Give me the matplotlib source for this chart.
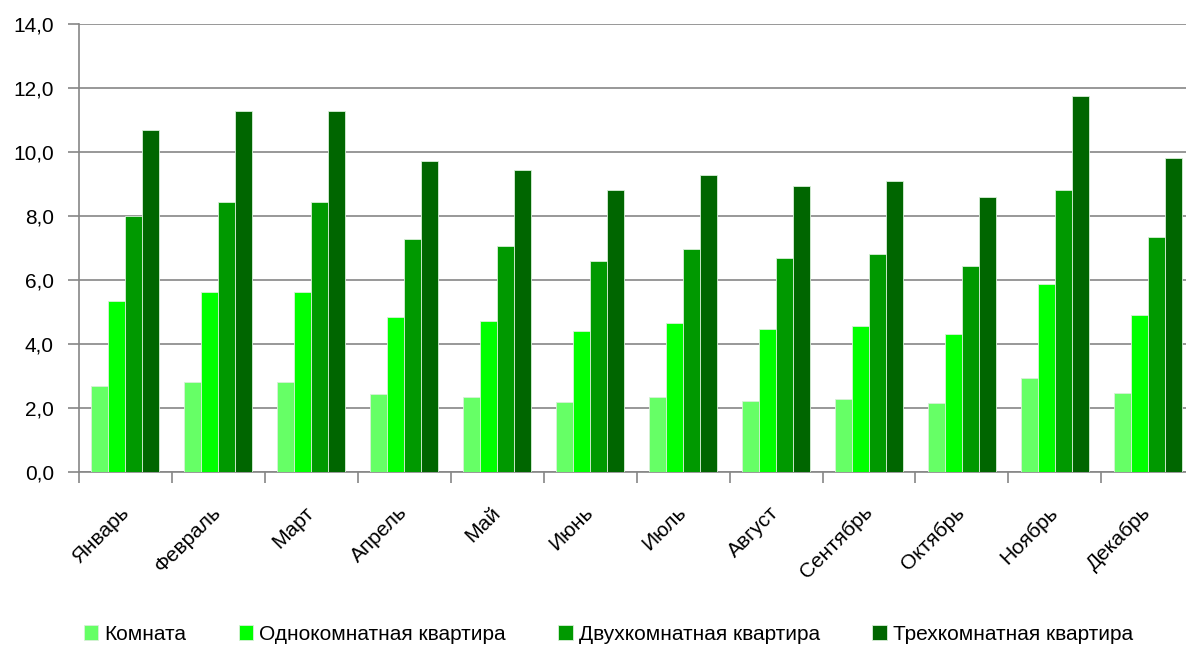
import numpy as np
import matplotlib.pyplot as plt
import matplotlib.transforms as mtransforms
from matplotlib.ticker import FuncFormatter

months = ['Январь', 'Февраль', 'Март', 'Апрель', 'Май', 'Июнь',
          'Июль', 'Август', 'Сентябрь', 'Октябрь', 'Ноябрь', 'Декабрь']
room = [2.69, 2.81, 2.81, 2.44, 2.34, 2.19, 2.34, 2.22, 2.28, 2.15, 2.94, 2.46]
one_room = [5.34, 5.63, 5.63, 4.84, 4.72, 4.41, 4.66, 4.47, 4.56, 4.30, 5.87, 4.91]
two_room = [8.00, 8.44, 8.44, 7.28, 7.06, 6.59, 6.97, 6.69, 6.81, 6.44, 8.81, 7.36]
three_room = [10.69, 11.28, 11.28, 9.72, 9.44, 8.81, 9.28, 8.94, 9.09, 8.60, 11.76, 9.81]

series = [
    ('Комната', room, '#66FF66'),
    ('Однокомнатная квартира', one_room, '#00FF00'),
    ('Двухкомнатная квартира', two_room, '#009900'),
    ('Трехкомнатная квартира', three_room, '#006600'),
]

plt.rcParams['font.family'] = ['Liberation Sans', 'DejaVu Sans']

fig = plt.figure(figsize=(11.86, 6.46), dpi=100)
ax = fig.add_axes([0.0666, 0.2693, 0.9404, 0.6935])

x = np.arange(len(months))
width = 0.183
for i, (name, vals, col) in enumerate(series):
    ax.bar(x + (i - 1.5) * width, vals, width, color=col, label=name,
           edgecolor='#d8f0d8', linewidth=0.6, zorder=3)

ax.set_xlim(-0.5, len(months) - 0.5)
ax.set_ylim(0, 14)
ax.set_yticks(np.arange(0, 14.1, 2))
ax.yaxis.set_major_formatter(FuncFormatter(lambda v, p: f'{v:.1f}'.replace('.', ',')))
ax.grid(axis='y', color='#868686', linewidth=1.2, zorder=0)

# деления по границам категорий
ax.set_xticks(np.arange(-0.5, len(months) - 0.4, 1))
ax.set_xticklabels([])
ax.set_xticks(x, minor=True)
labels = ax.set_xticklabels(months, minor=True, rotation=45, ha='right', va='center',
                            rotation_mode='anchor', fontsize=15)
shift = mtransforms.ScaledTranslation(9 / 100, 0, fig.dpi_scale_trans)
for lab in labels:
    lab.set_transform(lab.get_transform() + shift)
ax.tick_params(axis='x', which='minor', length=0, pad=27)
ax.tick_params(axis='x', which='major', length=8, color='#868686', width=1.2)
ax.tick_params(axis='y', length=8, color='#868686', width=1.2, labelsize=15, pad=10)

for s in ['top', 'right']:
    ax.spines[s].set_visible(False)
for s in ['left', 'bottom']:
    ax.spines[s].set_color('#868686')
    ax.spines[s].set_linewidth(1.2)

fig.legend(loc='center', bbox_to_anchor=(0.513, 0.018), ncol=4, frameon=False,
           fontsize=15, handlelength=0.7, handleheight=0.7, handletextpad=0.3,
           columnspacing=2.5)

plt.savefig('out.png', dpi=100)
